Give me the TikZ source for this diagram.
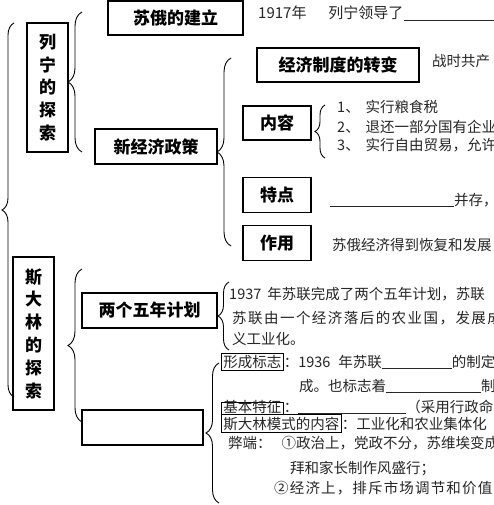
\documentclass[tikz,border=0pt]{standalone}
\usepackage{fontspec}
\setmainfont{Noto Sans CJK SC}
\usetikzlibrary{positioning,decorations.pathreplacing}

\newcommand{\labfont}{\fontsize{17pt}{20pt}\selectfont\bfseries}
\newcommand{\vfont}{\fontsize{17pt}{22.8pt}\selectfont\bfseries}
\newcommand{\txtfont}{\fontsize{14.5pt}{22pt}\selectfont}
\newcommand{\blank}[1]{\underline{\hspace{#1}}}

\begin{document}
\begin{tikzpicture}[x=1pt,y=-1pt,
box/.style={draw,line width=1.1pt,inner sep=0pt,font=\labfont},
txt/.style={inner sep=0pt,anchor=base west,font=\txtfont,text=black!85},
tag/.style={draw,line width=.6pt,inner xsep=2pt,inner ysep=2pt,anchor=base west,font=\txtfont,text=black!85},
brc/.style={decorate,decoration={brace,amplitude=#1},line width=.9pt},
brc/.default=12pt]
\clip (0,0) rectangle (494,505);
\fill[white] (0,0) rectangle (494,505);
% the two periods
\node[box,minimum width=41pt,minimum height=129pt,align=center,font=\vfont] (lenin) at (47.5,87.5) {列\\宁\\的\\探\\索};
\node[box,minimum width=41pt,minimum height=153pt,align=center,font=\vfont] (stalin) at (33.5,333.5) {斯\\大\\林\\的\\探\\索};
\coordinate (b0t) at (14,23);\coordinate (b0b) at (14,397);
\draw[brc] (b0b)--(b0t);
% Lenin
\node[box,minimum width=135pt,minimum height=34pt] (jianli) at (175.5,18) {苏俄的建立};
\node[box,minimum width=122pt,minimum height=35pt] (xjj) at (156,146.5) {新经济政策};
\coordinate (b1t) at (82,12);\coordinate (b1b) at (82,152);
\draw[brc=14pt] (b1b)--(b1t);
\node[txt,font=\fontsize{15pt}{18pt}\selectfont] (t1917) at (258,19) {1917年\hspace{22pt}列宁领导了\blank{95pt}};
\node[box,minimum width=162pt,minimum height=34pt] (zhuan) at (338,65) {经济制度的转变};
\node[box,minimum width=68pt,minimum height=34pt] (neirong) at (277,123) {内容};
\node[box,minimum width=68pt,minimum height=35pt,below=36pt of neirong] (tedian) {特点};
\node[box,minimum width=68pt,minimum height=35pt,below=12pt of tedian] (zuoyong) {作用};
\coordinate (b2t) at (231,58);\coordinate (b2b) at (231,246);
\draw[brc=14pt] (b2b)--(b2t);
\node[txt] (zhanshi) at (432,67) {战时共产};
\coordinate (b3t) at (325,105);\coordinate (b3b) at (325,158);
\draw[brc=10pt] (b3b)--(b3t);
\node[txt] (nr1) at (337,113) {1、\hspace{6pt}实行粮食税};
\node[txt] (nr2) at (337,132) {2、\hspace{6pt}退还一部分国有企业};
\node[txt] (nr3) at (337,150) {3、\hspace{6pt}实行自由贸易，允许};
\node[txt] (td) at (330,205) {\blank{124pt}并存，};
\node[txt] (zy) at (332,250) {苏俄经济得到恢复和发展};
% Stalin
\coordinate (b4t) at (82,269);\coordinate (b4b) at (82,422);
\draw[brc=14pt] (b4b)--(b4t);
\node[box,minimum width=135pt,minimum height=35pt] (wunian) at (149.5,310.5) {两个五年计划};
\node[box,minimum width=121pt,minimum height=35pt] (moshi) at (142.5,427.5) {};
\coordinate (b5t) at (229,282);\coordinate (b5b) at (229,350);
\draw[brc=11pt] (b5b)--(b5t);
\node[txt] (wn1) at (229,299) {1937\hspace{6pt}年苏联完成了两个五年计划，苏联};
\node[txt] (wn2) at (232,323) {\addfontfeature{LetterSpace=10}苏联由一个经济落后的农业国，发展成};
\node[txt] (wn3) at (232,344) {义工业化。};
\coordinate (b6t) at (219,363);\coordinate (b6b) at (219,503);
\draw[brc=13pt] (b6b)--(b6t);
\node[tag] (xc) at (221,367) {形成标志};
\node[txt] (xc1) at (xc.base east) {：1936\hspace{8pt}年苏联\blank{70pt}的制定};
\node[txt] (xc2) at (299,391) {成。也标志着\blank{95pt}制};
\node[tag,text height=9pt,text depth=1pt,inner ysep=1pt] (jb) at (221,412) {基本特征};
\node[txt] (jb1) at (jb.base east) {：\blank{108pt}（采用行政命};
\node[tag] (nrong) at (221,429) {斯大林模式的内容};
\node[txt] (nrong1) at (nrong.base east) {：工业化和农业集体化};
\node[txt] (bd1) at (228,448) {弊端：\hspace{10pt}①政治上，党政不分，苏维埃变成};
\node[txt] (bd2) at (290,473) {拜和家长制作风盛行；};
\node[txt] (bd3) at (274,493) {\addfontfeature{LetterSpace=8}②经济上，排斥市场调节和价值};
\end{tikzpicture}
\end{document}
